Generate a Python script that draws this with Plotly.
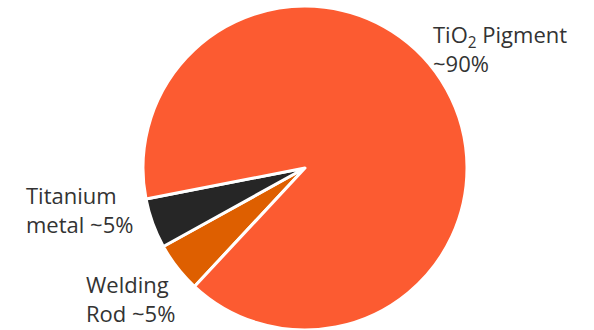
import plotly.graph_objects as go

labels = ["Welding Rod", "Titanium metal", "TiO2 Pigment"]
values = [5, 5, 90]
colors = ["#DE5F00", "#262626", "#FC5B31"]
label_texts = ["Welding<br>Rod ~5%", "Titanium<br>metal ~5%", "TiO<sub>2</sub> Pigment<br>~90%"]

W, H = 594, 330
cx, cy, r = 305, 168, 162

fig = go.Figure(go.Pie(
    labels=labels, values=values, sort=False, direction="clockwise",
    rotation=223, textinfo="none", hoverinfo="label+percent",
    marker=dict(colors=colors, line=dict(color="white", width=3)),
    domain=dict(x=[(cx - r) / W, (cx + r) / W], y=[(H - cy - r) / H, (H - cy + r) / H]),
    showlegend=False,
))

# (left x, y, anchor) in pixels
label_pos = [(84, 330, "bottom"), (24, 209, "middle"), (431, 49, "middle")]
for t, (x, y, anc) in zip(label_texts, label_pos):
    fig.add_annotation(text=t, x=x / W, y=1 - y / H, xref="paper", yref="paper",
                       xanchor="left", yanchor=anc, align="left", showarrow=False,
                       font=dict(family="Open Sans", size=22, color="#333333"))

fig.update_layout(width=W, height=H, margin=dict(l=0, r=0, t=0, b=0),
                  paper_bgcolor="white", plot_bgcolor="white")
fig.write_html("out.html", config={"displayModeBar": False},
               post_script="document.body.style.margin='0';")
